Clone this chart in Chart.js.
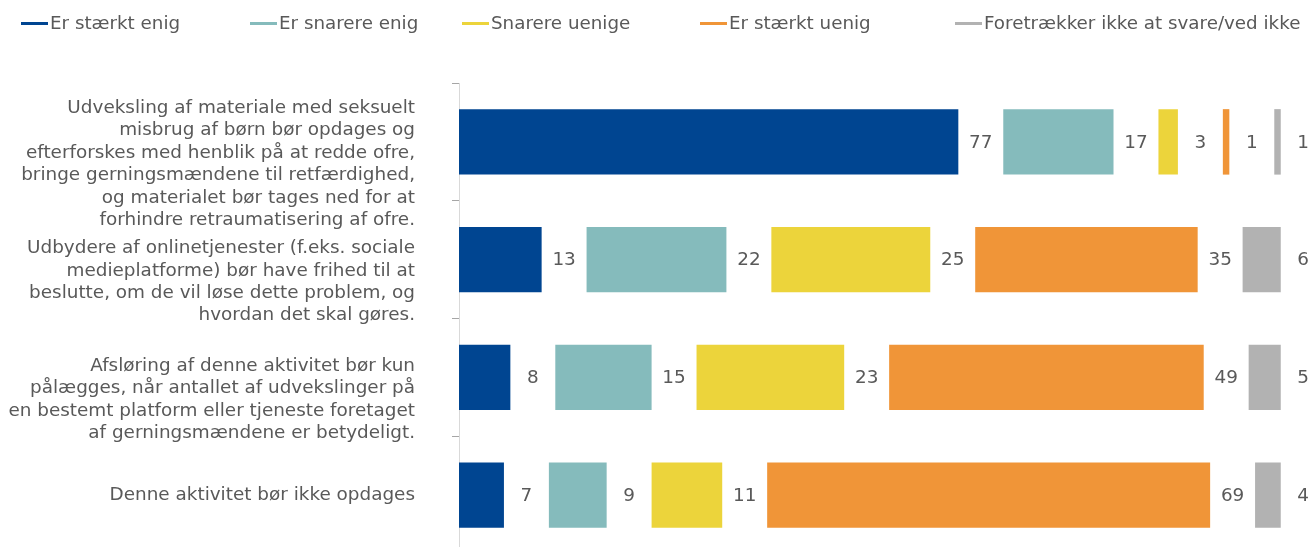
<!DOCTYPE html>
<html lang="da">
<head>
<meta charset="utf-8">
<title>Holdninger til opdagelse af seksuelt misbrug af børn</title>
<script src="https://cdn.jsdelivr.net/npm/chart.js@4.4.1/dist/chart.umd.min.js"></script>
<style>
  html, body { margin: 0; padding: 0; background: #fff; overflow: hidden; }
  #wrap { position: relative; width: 1309px; height: 547px; overflow: hidden; }
  #legend { position: absolute; top: 0; left: 0; width: 1309px; height: 46px; z-index: 2;
            font-family: "DejaVu Sans", sans-serif; font-size: 18.3px; color: #595959; }
  .item { position: absolute; top: 12px; display: flex; align-items: center; white-space: nowrap; line-height: 22px; }
  .item i { display: inline-block; width: 27px; height: 3px; margin-right: 2px; }
  canvas { position: absolute; top: 0; left: 0; }
</style>
</head>
<body>
<div id="wrap">
  <div id="legend"></div>
  <canvas id="chart" width="1309" height="554"></canvas>
</div>
<script>
// kategorier (spørgsmål), linjeskift som i originalen
const categories = [
  ['Udveksling af materiale med seksuelt', 'misbrug af børn bør opdages og', 'efterforskes med henblik på at redde ofre,', 'bringe gerningsmændene til retfærdighed,', 'og materialet bør tages ned for at', 'forhindre retraumatisering af ofre.'],
  ['Udbydere af onlinetjenester (f.eks. sociale', 'medieplatforme) bør have frihed til at', 'beslutte, om de vil løse dette problem, og', 'hvordan det skal gøres.'],
  ['Afsløring af denne aktivitet bør kun', 'pålægges, når antallet af udvekslinger på', 'en bestemt platform eller tjeneste foretaget', 'af gerningsmændene er betydeligt.'],
  ['Denne aktivitet bør ikke opdages']
];

const seriesNames = ['Er stærkt enig', 'Er snarere enig', 'Snarere uenige', 'Er stærkt uenig', 'Foretrækker ikke at svare/ved ikke'];
const seriesColors = ['#004591', '#85bbbc', '#ecd43b', '#f09538', '#b2b2b2'];

// procent pr. svar
const strongAgree    = [77, 13, 8, 7];
const agree          = [17, 22, 15, 9];
const disagree       = [3, 25, 23, 11];
const strongDisagree = [1, 35, 49, 69];
const noAnswer       = [1, 6, 5, 4];
const seriesValues = [strongAgree, agree, disagree, strongDisagree, noAnswer];

const GAP = 7;          // tomt felt efter hver blok, hvor tallet står
const X_MAX = 132.4;
const AXIS_LEFT = 459;
const LEGEND_X = [21, 250, 462, 700, 955];
const TEXT = '#595959';
const FONT = 'DejaVu Sans';
const FONT_SIZE = 18.4;

// 100 %-stablet: hver række fylder det samme (afrundede tal summer ikke altid til 100)
const rowTotals = categories.map((c, j) => seriesValues.reduce((s, vals) => s + vals[j], 0));

const datasets = [];
seriesValues.forEach((vals, k) => {
  datasets.push({
    label: seriesNames[k],
    data: vals.map((v, j) => v * 100 / rowTotals[j]),
    raw: vals,
    backgroundColor: seriesColors[k],
    borderWidth: 0
  });
  // usynlig afstand, bærer tal-etiketten
  datasets.push({
    label: '',
    data: categories.map(() => GAP),
    backgroundColor: 'rgba(0,0,0,0)',
    borderWidth: 0,
    labelFor: datasets.length - 1
  });
});

const valueLabels = {
  id: 'valueLabels',
  afterDatasetsDraw(chart) {
    const ctx = chart.ctx;
    ctx.save();
    ctx.font = FONT_SIZE + 'px "' + FONT + '"';
    ctx.fillStyle = TEXT;
    ctx.textAlign = 'center';
    ctx.textBaseline = 'middle';
    chart.data.datasets.forEach((ds, i) => {
      if (ds.labelFor == null) return;
      const src = chart.data.datasets[ds.labelFor].raw;
      chart.getDatasetMeta(i).data.forEach((bar, j) => {
        ctx.fillText(String(src[j]), (bar.x + bar.base) / 2, bar.y + 1);
      });
    });
    ctx.restore();
  }
};

const chart = new Chart(document.getElementById('chart'), {
  type: 'bar',
  data: { labels: categories, datasets },
  plugins: [valueLabels],
  options: {
    indexAxis: 'y',
    responsive: false,
    animation: false,
    layout: { padding: { top: 83, left: 0, right: 0, bottom: 0 } },
    datasets: { bar: { categoryPercentage: 1, barPercentage: 0.556 } },
    plugins: {
      legend: { display: false },
      tooltip: { enabled: false }
    },
    scales: {
      x: { stacked: true, display: false, min: 0, max: X_MAX },
      y: {
        stacked: true,
        border: { color: '#d9d9d9', width: 1 },
        grid: { drawOnChartArea: false, offset: true, tickLength: 7, color: '#a6a6a6' },
        ticks: {
          autoSkip: false,
          padding: 37,
          color: TEXT,
          font: { family: FONT, size: FONT_SIZE, lineHeight: 1.217 },
          // flerlinjede etiketter sidder lidt lavere, som i originalen
          callback: (v, i) => categories[i].length > 1 ? ['', ''].concat(categories[i]) : categories[i]
        },
        afterFit: (scale) => {
          scale.width = AXIS_LEFT;
          scale.paddingTop = 0;
          scale.paddingBottom = 0;
        }
      }
    }
  }
});

// legende som linjer foran teksten
const legendEl = document.getElementById('legend');
seriesNames.forEach((name, k) => {
  const item = document.createElement('div');
  item.className = 'item';
  item.style.left = LEGEND_X[k] + 'px';
  item.innerHTML = '<i style="background:' + seriesColors[k] + '"></i><span>' + name + '</span>';
  legendEl.appendChild(item);
});
</script>
</body>
</html>
